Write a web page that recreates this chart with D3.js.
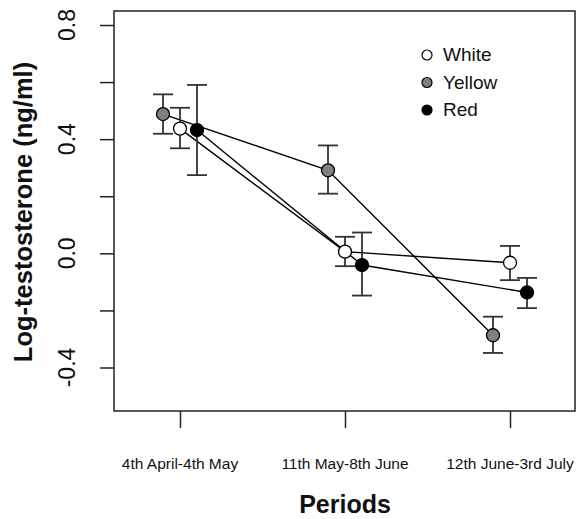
<!DOCTYPE html>
<html><head><meta charset="utf-8">
<script src="https://cdn.jsdelivr.net/npm/d3@7"></script>
<style>body{margin:0;background:#fff}svg{display:block}text{font-family:Arial,"Liberation Sans",sans-serif}</style>
</head><body>
<svg id="c" width="576" height="519"></svg>
<script>
const periods = ["4th April-4th May", "11th May-8th June", "12th June-3rd July"];
const seriesNames = ["Yellow", "White", "Red"];
const legendOrder = ["White", "Yellow", "Red"];
const fills = {White: "#ffffff", Yellow: "#808080", Red: "#000000"};
const whiteMean = [0.437, 0.006, -0.033];
const whiteLow = [0.368, -0.045, -0.094];
const whiteHigh = [0.510, 0.058, 0.026];
const yellowMean = [0.488, 0.291, -0.287];
const yellowLow = [0.419, 0.209, -0.349];
const yellowHigh = [0.557, 0.378, -0.222];
const redMean = [0.432, -0.041, -0.137];
const redLow = [0.274, -0.148, -0.192];
const redHigh = [0.590, 0.073, -0.086];
const yTicks = [-0.4, -0.2, 0.0, 0.2, 0.4, 0.6, 0.8];
const yLabels = [-0.4, 0.0, 0.4, 0.8];

const data = {
  White: {mean: whiteMean, low: whiteLow, high: whiteHigh},
  Yellow: {mean: yellowMean, low: yellowLow, high: yellowHigh},
  Red: {mean: redMean, low: redLow, high: redHigh}
};

const svg = d3.select("#c");
const box = {l: 114, r: 575, t: 11, b: 411};
const y = d3.scaleLinear().domain([-0.4, 0.8]).range([367.5, 25]);
const x = d3.scalePoint().domain(periods).range([180, 510]);
const off = d3.scalePoint().domain(seriesNames).range([-17, 17]);
const ink = "#222";

// box
svg.append("rect").attr("x", box.l).attr("y", box.t).attr("width", box.r - box.l).attr("height", box.b - box.t)
  .attr("fill", "none").attr("stroke", ink).attr("stroke-width", 1.5);

// y axis
const yAxis = d3.axisLeft(y).tickValues(yTicks).tickSize(14).tickFormat("");
const gy = svg.append("g").attr("transform", `translate(${box.l},0)`).call(yAxis);
gy.select(".domain").remove();
gy.selectAll(".tick line").attr("stroke", ink).attr("stroke-width", 1.5);
svg.append("g").selectAll("text").data(yLabels).join("text")
  .attr("transform", d => `translate(75,${y(d)}) rotate(-90)`)
  .attr("text-anchor", "middle").attr("font-size", 23).attr("fill", "#111")
  .text(d => d3.format(".1f")(d).replace("−", "-"));

// x axis
const xAxis = d3.axisBottom(x).tickSize(17).tickFormat("");
const gx = svg.append("g").attr("transform", `translate(0,${box.b})`).call(xAxis);
gx.select(".domain").remove();
gx.selectAll(".tick line").attr("stroke", ink).attr("stroke-width", 1.5);
svg.append("g").selectAll("text").data(periods).join("text")
  .attr("x", d => x(d)).attr("y", 469).attr("text-anchor", "middle")
  .attr("font-size", 15.5).attr("fill", "#111").text(d => d);

// axis titles
svg.append("text").attr("x", 345).attr("y", 513).attr("text-anchor", "middle")
  .attr("font-size", 25).attr("font-weight", "bold").attr("fill", "#111").text("Periods");
svg.append("text").attr("transform", "translate(32,212) rotate(-90)").attr("text-anchor", "middle")
  .attr("font-size", 25.5).attr("font-weight", "bold").attr("fill", "#111").text("Log-testosterone (ng/ml)");

const px = (s, i) => x(periods[i]) + off(s);
const line = d3.line().x(d => d.x).y(d => y(d.v));

// lines
legendOrder.forEach(s => {
  const pts = data[s].mean.map((v, i) => ({x: px(s, i), v}));
  svg.append("path").attr("d", line(pts)).attr("fill", "none").attr("stroke", "#000").attr("stroke-width", 1.4);
});

// error bars
legendOrder.forEach(s => {
  const g = svg.append("g").attr("stroke", "#333").attr("stroke-width", 1.8);
  data[s].mean.forEach((v, i) => {
    const cx = px(s, i);
    g.append("line").attr("x1", cx).attr("x2", cx).attr("y1", y(data[s].low[i])).attr("y2", y(data[s].high[i]));
    g.append("line").attr("x1", cx - 10).attr("x2", cx + 10).attr("y1", y(data[s].low[i])).attr("y2", y(data[s].low[i]));
    g.append("line").attr("x1", cx - 10).attr("x2", cx + 10).attr("y1", y(data[s].high[i])).attr("y2", y(data[s].high[i]));
  });
});

// points
legendOrder.forEach(s => {
  svg.append("g").selectAll("circle").data(data[s].mean).join("circle")
    .attr("cx", (d, i) => px(s, i)).attr("cy", d => y(d)).attr("r", 6.5)
    .attr("fill", fills[s]).attr("stroke", "#000").attr("stroke-width", 1.3);
});

// legend
const lg = svg.append("g");
legendOrder.forEach((s, i) => {
  const ly = 55 + i * 27.5;
  lg.append("circle").attr("cx", 427).attr("cy", ly).attr("r", 5).attr("fill", fills[s]).attr("stroke", "#000").attr("stroke-width", 1.2);
  lg.append("text").attr("x", 443).attr("y", ly + 6).attr("font-size", 19).attr("fill", "#111").text(s);
});
</script>
</body></html>
